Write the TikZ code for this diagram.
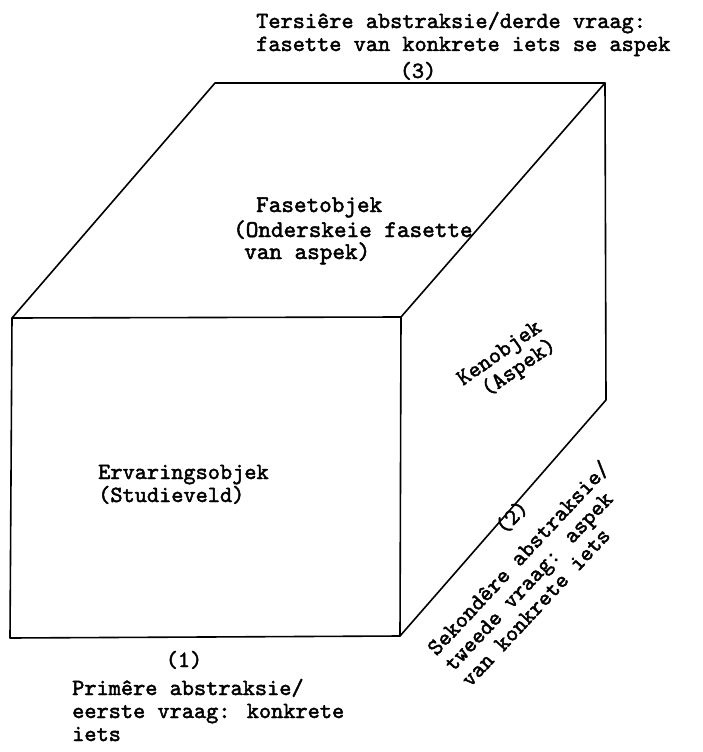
\documentclass[tikz,border=0pt]{standalone}
\usepackage{fontspec}
\newfontfamily\tw{lmmono10-regular}[Extension=.otf, FakeBold=2]
\begin{document}
\begin{tikzpicture}[x=1pt,y=-1pt,
  font=\tw\fontsize{23.2}{23}\selectfont,
  edge/.style={line width=1.6pt, line cap=round, line join=round},
  lbl/.style={inner sep=0pt, anchor=base west},
  clbl/.style={inner sep=0pt, anchor=base},
  blk/.style={inner sep=0pt, anchor=base west, align=left},
  face/.style={font=\tw\fontsize{24}{25}\selectfont}]
\useasboundingbox (0,0) rectangle (703,752);
% cube corners
\coordinate (FTL) at (12,318);
\coordinate (FTR) at (401,317);
\coordinate (FBR) at (400,636);
\coordinate (FBL) at (10,638);
\coordinate (BTL) at (215,83);
\coordinate (BTR) at (605,83);
\coordinate (BBR) at (606,400);
\draw[edge] (FTL) -- (FTR) -- (FBR) -- (FBL) -- cycle;
\draw[edge] (FTL) -- (BTL) -- (BTR) -- (BBR) -- (FBR);
\draw[edge] (FTR) -- (BTR);
% top labels
\node[blk] (t1) at (256,51) {Tersiêre abstraksie/derde vraag:\\fasette van konkrete iets se aspek};
\node[clbl] (t3) at (418,78) {(3)};
% top face
\node[lbl, face] (f1) at (256,212) {Fasetobjek};
\node[lbl, face] (f2) at (233,237) {(Onderskeie fasette};
\node[lbl, face] (f3) at (244,259) {van aspek)};
% right face
\node[blk, rotate=35] (k1) at (476,405) {Kenobjek\\\hspace*{0.6em}(Aspek)};
% front face
\node[blk] (e1) at (98,502) {Ervaringsobjek\\(Studieveld)};
% bottom labels
\node[clbl] (p0) at (184,667) {(1)};
\node[blk] (p1) at (72,741) {Primêre abstraksie/\\eerste vraag: konkrete\\iets};
% diagonal labels
\node[clbl, rotate=47] (s0) at (517,522) {(2)};
\node[blk, rotate=47] (s1) at (470,688) {Sekondêre abstraksie/\\tweede vraag: aspek\\van konkrete iets};
\end{tikzpicture}
\end{document}
